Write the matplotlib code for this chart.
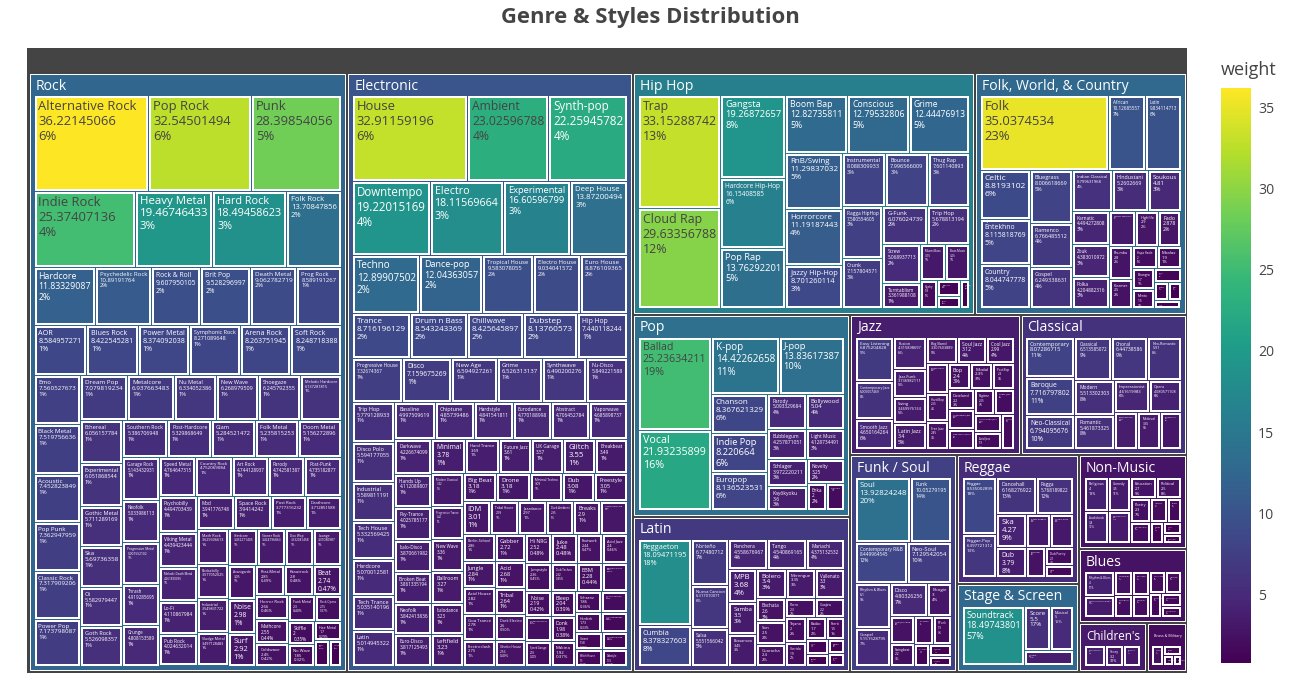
import numpy as np
import matplotlib
matplotlib.use("Agg")
import matplotlib.pyplot as plt
from matplotlib.patches import Rectangle
from matplotlib.colors import LinearSegmentedColormap, Normalize, to_rgb
from matplotlib.cm import ScalarMappable

plt.rcParams['font.family'] = ['Open Sans', 'DejaVu Sans']

# ---------------- DATA ----------------
genres = ["Rock", "Electronic", "Hip Hop", "Folk, World, & Country", "Pop", "Latin",
          "Jazz", "Classical", "Funk / Soul", "Reggae", "Stage & Screen", "Non-Music",
          "Blues", "Children's", "Brass & Military"]

rock_styles = ["Alternative Rock", "Pop Rock", "Punk", "Indie Rock", "Heavy Metal", "Hard Rock", "Folk Rock",
               "Hardcore", "Psychedelic Rock", "Rock & Roll", "Brit Pop", "Death Metal", "Prog Rock", "AOR",
               "Blues Rock", "Power Metal", "Symphonic Rock", "Arena Rock", "Soft Rock", "Emo", "Black Metal",
               "Acoustic", "Pop Punk", "Classic Rock", "Power Pop", "Dream Pop", "Metalcore", "Nu Metal",
               "New Wave", "Shoegaze", "Melodic Hardcore", "Ethereal", "Experimental", "Gothic Metal", "Ska",
               "Oi", "Goth Rock", "Southern Rock", "Post-Hardcore", "Glam", "Folk Metal", "Doom Metal",
               "Garage Rock", "Neofolk", "Progressive Metal", "Thrash", "Grunge", "Speed Metal", "Country Rock",
               "Art Rock", "Parody", "Post-Punk", "Psychobilly", "Viking Metal", "Melodic Death Metal", "Lo-Fi",
               "Pub Rock", "Mod", "Space Rock", "Post Rock", "Deathcore", "Math Rock", "Rockabilly",
               "Industrial", "Sludge Metal", "Grindcore", "Stoner Rock", "Doo Wop", "Lounge",
               "Avantgarde", "Noise", "Surf", "Post-Metal", "Krautrock", "Beat", "Horror Rock", "Mathcore",
               "Coldwave", "Funk Metal", "Rock Opera", "Skiffle", "No Wave", "Hair Metal", "Crust",
               "Pop Metal"]
rock_weights = [36.22145066, 32.54501494, 28.39854056, 25.37407136, 19.46746433, 18.49458623, 13.70847856,
                11.83329087, 10.89191764, 9.607950105, 9.528296997, 9.062782719, 8.589191267, 8.584957271,
                8.422545281, 8.374092038, 8.271089648, 8.263751945, 8.248718388, 7.560527673, 7.519756636,
                7.452823849, 7.362947959, 7.317909206, 7.173798087, 7.079819234, 6.937663483, 6.334052386,
                6.268979509, 6.245792355, 6.137281815, 6.056157784, 6.051868544, 5.711289169, 5.69736358,
                5.582979447, 5.526098357, 5.386706948, 5.329868649, 5.284521472, 5.235815253, 5.156272896,
                5.143432931, 5.033986113, 5.001552102, 4.919285695, 4.808153589, 4.764647315, 4.752069084,
                4.744128937, 4.742581387, 4.735182877, 4.494703439, 4.439423444, 4.261820095, 4.110867984,
                4.024632014, 3.941776748, 3.9414242, 3.777316232, 3.712851588, 3.629306613, 3.577052025,
                3.549831722, 3.497128483, 3.452271405, 3.424796863, 3.332041458, 3.31080987,
                3.05, 2.98, 2.92, 2.85, 2.80, 2.74, 2.66, 2.55, 2.45, 2.30, 2.15, 2.0, 1.85, 1.7, 1.2,
                1.0]

electronic_styles = ["House", "Ambient", "Synth-pop", "Downtempo", "Electro", "Experimental", "Deep House",
                     "Techno", "Dance-pop", "Tropical House", "Electro House", "Euro House", "Trance",
                     "Drum n Bass", "Chillwave", "Dubstep", "Hip Hop", "Progressive House", "Disco", "New Age",
                     "Grime", "Synthwave", "Nu-Disco", "Trip Hop", "Disco Polo", "Industrial", "Tech House",
                     "Hardcore", "Tech Trance", "Latin", "Bassline", "Chiptune", "Hardstyle", "Eurodance",
                     "Abstract", "Vaporwave", "Darkwave", "Hands Up", "Psy-Trance", "Italo-Disco", "Broken Beat",
                     "Neofolk", "Euro-Disco", "Minimal", "Hard Trance", "Future Jazz", "UK Garage", "Glitch",
                     "Breakbeat", "Modern Classical", "Progressive Trance", "New Wave", "Ballroom", "Italodance",
                     "Leftfield", "Big Beat", "Drone", "Minimal Techno", "Dub", "Freestyle", "IDM", "Tribal House",
                     "Jazzdance", "Dark Ambient", "Breaks",
                     "Happy Hardcore", "Berlin-School", "Jungle", "Acid House", "Goa Trance", "Electroclash",
                     "Gabber", "Acid", "Tribal", "Dark Electro", "Ghetto House", "Hi NRG", "Juke", "Footwork",
                     "Acid Jazz", "Jumpstyle", "Dub Techno", "EBM", "Electroacoustic", "Noise",
                     "Power Electronics", "Speed Garage", "Bleep", "Donk", "Makina", "Schranz",
                     "Musique Concrète", "Hardtek", "Nu Skool Breaks", "Illbient", "Witch House", "Sound Collage",
                     "Dubstyle"]
electronic_weights = [32.91159196, 23.02596788, 22.25945782, 19.22015169, 18.11569664, 16.60596799, 13.87200494,
                      12.89907502, 12.04363057, 9.583078055, 9.034041572, 8.876109365, 8.716196129,
                      8.543243369, 8.425645897, 8.13760573, 7.440118244, 7.32674367, 7.159675269, 6.594927261,
                      6.526313137, 6.490200276, 5.849221588, 5.779128933, 5.594177055, 5.589811191, 5.332569425,
                      5.070012581, 5.035140196, 5.014945322, 4.997509619, 4.85739486, 4.841541811, 4.770188998,
                      4.706452784, 4.685898737, 4.226674099, 4.112089807, 4.025785177, 3.870661982, 3.861335194,
                      3.842413836, 3.817125493, 3.78, 3.69, 3.61, 3.57, 3.55,
                      3.49, 3.42, 3.42, 3.36, 3.27, 3.23,
                      3.23, 3.18, 3.18, 3.09, 3.08, 3.05, 3.01, 2.99,
                      2.97, 2.95, 2.90,
                      2.88, 2.86, 2.84, 2.82, 2.78, 2.75, 2.72, 2.68, 2.64, 2.60, 2.56, 2.52, 2.48, 2.44,
                      2.40, 2.36, 2.32, 2.28, 2.24, 2.19, 2.14, 2.09, 2.04, 1.98, 1.92, 1.86, 1.80, 1.73,
                      1.66, 1.58, 1.50, 1.42, 1.33]

hiphop_styles = ["Trap", "Cloud Rap", "Gangsta", "Hardcore Hip-Hop", "Pop Rap", "Boom Bap", "Conscious", "Grime",
                 "RnB/Swing", "Horrorcore", "Jazzy Hip-Hop", "Instrumental", "Bounce", "Thug Rap",
                 "Ragga HipHop", "Crunk", "G-Funk", "Trip Hop", "Screw", "Turntablism", "Miami Bass",
                 "Bass Music", "Hyphy", "Electro", "Britcore", "Cut-up/DJ"]
hiphop_weights = [33.15288742, 29.63356788, 19.26872657, 16.15408585, 13.76292201, 12.82735811, 12.79532806,
                  12.44476913, 11.29837032, 11.19187443, 8.701260114, 8.088309933, 7.996566009, 7.601140893,
                  7.580554605, 7.157804571, 6.076024739, 5.678813194, 5.068937713, 3.361988108, 3.15, 3.05,
                  1.8, 1.3, 1.0, 0.9]

folk_styles = ["Folk", "African", "Latin", "Celtic", "Éntekhno", "Country", "Bluegrass", "Flamenco", "Gospel",
               "Indian Classical", "Hindustani", "Soukous", "Karnatic", "Zouk", "Polka", "Canzone Napoletana",
               "Fado", "Highlife", "Rhumba", "Klezmer", "Hapa Haole", "Mbalax", "Bhangra", "Mento", "Cajun",
               "Gamelan", "Pacific", "Tuvan"]
folk_weights = [35.0374534, 10.12685557, 9.834114713, 8.8193102, 8.115818769, 8.044747778, 8.006618669,
                6.766485512, 6.249338631, 5.799631968, 5.2602669, 4.81, 4.494272808, 4.383010972, 4.204882316,
                3.40, 2.878, 2.9, 2.8, 2.5, 2.0, 1.9, 1.7, 1.5, 1.3, 0.9, 0.8, 0.8]

pop_styles = ["Ballad", "Vocal", "K-pop", "J-pop", "Chanson", "Indie Pop", "Europop", "Parody", "Bollywood",
              "Bubblegum", "Light Music", "Schlager", "Kayōkyoku", "Novelty", "Enka", "City Pop"]
pop_weights = [25.23634211, 21.93235899, 14.42262658, 13.83617387, 8.367621329, 8.220664, 8.136523531,
               5.093329684, 5.04, 4.257871051, 4.128734491, 3.972220211, 3.6, 3.25, 2.0, 1.8]

latin_styles = ["Reggaeton", "Cumbia", "Norteño", "Nueva Cancion", "Salsa", "Ranchera", "Tango", "Mariachi",
                "MPB", "Samba", "Bossanova", "Bolero", "Merengue", "Vallenato", "Bachata", "Son", "Guaracha",
                "Porro", "Guajira", "Tejano", "Corrido", "Baião", "Forró", "Axé", "Cha-Cha", "Mambo", "Danzon"]
latin_weights = [18.09471195, 8.378327603, 6.77480712, 6.317010071, 5.551566042, 4.558676967, 4.540869165,
                 4.375132532, 3.68, 3.5, 3.45, 3.4, 3.35, 3.3, 2.6, 2.5, 2.4, 2.3, 2.2, 2.0, 1.9, 1.7, 1.5,
                 1.3, 1.0, 0.9, 0.8]

jazz_styles = ["Easy Listening", "Contemporary Jazz", "Smooth Jazz", "Fusion", "Jazz-Funk", "Swing",
               "Latin Jazz", "Big Band", "Soul Jazz", "Cool Jazz", "Bossa Nova", "Hard Bop", "Free Jazz", "Bop",
               "Modal", "Post Bop", "Dixieland", "Avant-garde Jazz", "Free Improvisation", "Ragtime",
               "Gypsy Jazz", "Afro-Cuban Jazz", "Acid Jazz", "Space-Age"]
jazz_weights = [6.875204828, 6.006057469, 4.650164264, 4.315898697, 3.736982111, 3.469976134, 3.40,
                3.307603889, 3.12, 2.99, 2.65, 2.55, 2.45, 2.4, 2.35, 2.3, 2.2, 2.15, 2.1, 2.05, 2.0,
                1.95, 1.9, 1.85]

classical_styles = ["Contemporary", "Baroque", "Neo-Classical", "Classical", "Choral", "Neo-Romantic", "Modern",
                    "Romantic", "Impressionist", "Opera", "Post-Modern", "Medieval", "Renaissance"]
classical_weights = [8.07286715, 7.716797802, 6.794095676, 6.513585072, 6.44738586, 5.91, 5.513302303,
                     5.461873325, 4.61619983, 4.080571108, 3.55, 3.35, 3.1]

funk_styles = ["Soul", "Funk", "Contemporary R&B", "Neo-Soul", "Rhythm & Blues", "Gospel", "Disco", "Boogie",
               "New Jack Swing", "Swingbeat", "Psychedelic", "P.Funk", "Minneapolis Sound", "Free Funk",
               "Afrobeat"]
funk_weights = [13.92824248, 10.05279195, 8.449964545, 7.129542054, 6.10, 5.151528795, 4.80326256, 3.0, 2.5,
                2.2, 2.0, 1.9, 1.25, 1.0, 0.75]

reggae_styles = ["Reggae", "Reggae-Pop", "Dancehall", "Ragga", "Ska", "Dub", "Roots Reggae", "Lovers Rock",
                 "Rocksteady", "Dub Poetry", "Calypso"]
reggae_weights = [8.535002899, 6.397721312, 6.168276922, 5.768189822, 4.27, 3.79, 3.4, 3.2, 2.5, 2.1, 1.45]

stage_styles = ["Soundtrack", "Score", "Musical", "Theme"]
stage_weights = [18.49743801, 5.5, 5.0, 3.7]

nonmusic_styles = ["Religious", "Audiobook", "Comedy", "Spoken Word", "Education", "Political", "Poetry",
                   "Field Recording", "Interview", "Dialogue", "Monolog", "Speech", "Promotional"]
nonmusic_weights = [4.0, 3.8, 3.5, 3.3, 2.7, 2.5, 2.3, 2.1, 1.9, 1.6, 1.3, 1.0, 0.8]

blues_styles = ["Rhythm & Blues", "Modern Electric Blues", "Chicago Blues", "Delta Blues", "Electric Blues",
                "Piano Blues", "Country Blues", "Jump Blues", "Boogie Woogie", "Harmonica Blues",
                "Louisiana Blues"]
blues_weights = [4.0, 3.5, 2.5, 2.2, 2.1, 2.0, 1.9, 1.8, 1.6, 1.4, 1.2]

children_styles = ["Nursery Rhymes", "Story", "Educational"]
children_weights = [3.8, 3.2, 3.0]

brass_styles = ["Marches", "Military", "Pipe & Drum", "Brass Band"]
brass_weights = [2.4, 1.8, 1.0, 0.8]

style_lists = [rock_styles, electronic_styles, hiphop_styles, folk_styles, pop_styles, latin_styles,
               jazz_styles, classical_styles, funk_styles, reggae_styles, stage_styles, nonmusic_styles,
               blues_styles, children_styles, brass_styles]
weight_lists = [rock_weights, electronic_weights, hiphop_weights, folk_weights, pop_weights, latin_weights,
                jazz_weights, classical_weights, funk_weights, reggae_weights, stage_weights, nonmusic_weights,
                blues_weights, children_weights, brass_weights]
for s, w in zip(style_lists, weight_lists):
    assert len(s) == len(w), (s[0], len(s), len(w))

# ---------------- LAYOUT (d3 squarify, ratio 1) ----------------
def squarify(values, x0, y0, x1, y1, ratio=1.0):
    n = len(values)
    rects = [None] * n
    value = float(sum(values))
    i0 = i1 = 0
    while i0 < n:
        dx, dy = x1 - x0, y1 - y0
        sumv = values[i1]; i1 += 1
        minv = maxv = sumv
        alpha = max(dy / dx, dx / dy) / (value * ratio)
        beta = sumv * sumv * alpha
        minr = max(maxv / beta, beta / minv)
        while i1 < n:
            nv = values[i1]
            s2 = sumv + nv
            mn, mx = min(minv, nv), max(maxv, nv)
            beta = s2 * s2 * alpha
            nr = max(mx / beta, beta / mn)
            if nr > minr:
                break
            sumv, minv, maxv, minr = s2, mn, mx, nr
            i1 += 1
        if dx < dy:
            yy1 = y0 + dy * sumv / value
            xx = x0
            for i in range(i0, i1):
                w = (x1 - x0) * values[i] / sumv
                rects[i] = (xx, y0, xx + w, yy1)
                xx += w
            y0 = yy1
        else:
            xx1 = x0 + dx * sumv / value
            yy = y0
            for i in range(i0, i1):
                h = (y1 - y0) * values[i] / sumv
                rects[i] = (x0, yy, xx1, yy + h)
                yy += h
            x0 = xx1
        value -= sumv
        i0 = i1
    return rects


def layout(rect, values, padT, padL, padR, padB, inner=3.0):
    x0, y0, x1, y1 = rect
    p = inner / 2
    rs = squarify(values, x0 + padL - p, y0 + padT - p, x1 - padR + p, y1 - padB + p)
    return [(a + p, b + p, c - p, d - p) for a, b, c, d in rs]


# ---------------- COLORS ----------------
viridis_pl = ['#440154', '#482878', '#3e4989', '#31688e', '#26828e', '#1f9e89', '#35b779', '#6ece58',
              '#b5de2b', '#fde725']
cmap = LinearSegmentedColormap.from_list('pv', viridis_pl)
all_w = [v for wl in weight_lists for v in wl]
norm = Normalize(vmin=min(all_w), vmax=max(all_w))


def text_color(c):
    r, g, b = [int(255 * t) for t in to_rgb(c)]
    return '#444444' if (r * 299 + g * 587 + b * 114) / 1000 >= 128 else 'white'


def pct(v, tot):
    p = 100.0 * v / tot
    return f"{int(p + 0.5)}%" if p >= 0.5 else f"{p:.2f}%"


PX = 0.72  # points per pixel at dpi 100

fig = plt.figure(figsize=(13, 7), dpi=100)
ax = fig.add_axes([0, 0, 1, 1])
ax.set_xlim(0, 1300)
ax.set_ylim(700, 0)
ax.axis('off')
renderer = fig.canvas.get_renderer()

root = (27, 48, 1187, 673)
ax.add_patch(Rectangle((root[0], root[1]), root[2] - root[0], root[3] - root[1], fc='#444444', ec='none'))

totals = [sum(w) for w in weight_lists]
order = sorted(range(len(genres)), key=lambda i: -totals[i])
prects = layout(root, [totals[i] for i in order], 26, 3, 2, 3)

for gi, pr in zip(order, prects):
    styles, weights = style_lists[gi], weight_lists[gi]
    tot = totals[gi]
    pcol = cmap(norm(sum(w * w for w in weights) / tot))
    x0, y0, x1, y1 = pr
    ax.add_patch(Rectangle((x0, y0), x1 - x0, y1 - y0, fc=pcol, ec='white', lw=1.0 * PX))
    # header
    hs = 14.0
    t = ax.text(x0 + 6, y0 + 12, genres[gi], fontsize=hs * PX, color=text_color(pcol), va='center', ha='left')
    bw = t.get_window_extent(renderer).width
    if bw > (x1 - x0) - 10:
        t.set_fontsize(hs * PX * ((x1 - x0) - 10) / bw)
    # children
    idx = sorted(range(len(weights)), key=lambda i: -weights[i])
    crects = layout(pr, [weights[i] for i in idx], 23, 5.5, 5.5, 5.5)
    for ci, cr in zip(idx, crects):
        a, b, c, d = cr
        w, h = c - a, d - b
        col = cmap(norm(weights[ci]))
        ax.add_patch(Rectangle((a, b), w, h, fc=col, ec='white', lw=2 * PX))
        label = f"{styles[ci]}\n{weights[ci]:.10g}\n{pct(weights[ci], tot)}"
        s0 = 13.0
        tt = ax.text(a + 3, b + 3, label, fontsize=s0 * PX, color=text_color(col), va='top', ha='left',
                     linespacing=1.2)
        ext = tt.get_window_extent(renderer)
        sc = min(1.0, (w - 6) / max(ext.width, 1), (h - 5) / max(ext.height, 1))
        if sc < 1.0:
            tt.set_fontsize(max(s0 * PX * sc, 0.5))

# title
fig.text(650 / 1300, 1 - 18 / 700, "Genre & Styles Distribution", ha='center', va='center',
         fontsize=22 * PX, fontweight='bold', color='#444444')

# colorbar
cax = fig.add_axes([1221 / 1300, (700 - 663) / 700, 30 / 1300, 575 / 700])
cb = fig.colorbar(ScalarMappable(norm=norm, cmap=cmap), cax=cax)
cb.outline.set_visible(False)
cb.set_ticks([5, 10, 15, 20, 25, 30, 35])
cax.tick_params(length=0, labelsize=14 * PX, labelcolor='#444444', pad=5)
fig.text(1221 / 1300, 1 - 70 / 700, "weight", fontsize=18 * PX, color='#444444', va='center', ha='left')

fig.savefig("out.png", dpi=100)
